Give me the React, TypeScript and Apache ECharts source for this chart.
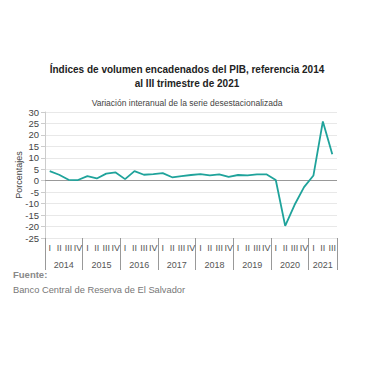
import React, { useEffect, useRef } from "react";
import * as echarts from "echarts";

const years = ["2014", "2015", "2016", "2017", "2018", "2019", "2020", "2021"];
const quartersPerYear = [4, 4, 4, 4, 4, 4, 4, 3];
const quarterNames = ["I", "II", "III", "IV"];
const values = [
  4.2, 2.6, 0.4, 0.3,
  2.0, 1.0, 3.1, 3.6,
  0.7, 4.2, 2.6, 2.9,
  3.3, 1.5, 2.0, 2.5,
  2.9, 2.3, 2.8, 1.7,
  2.5, 2.3, 2.8, 2.8,
  0.3, -19.7, -10.5, -2.8,
  2.3, 25.9, 11.6,
];

const FONT = "'Liberation Sans', Arial, sans-serif";

export default function App() {
  const ref = useRef<HTMLDivElement>(null);
  useEffect(() => {
    document.body.style.margin = "0";
    if (!ref.current) return;
    const chart = echarts.init(ref.current, undefined, { renderer: "svg" });

    const quarterCats: string[] = [];
    quartersPerYear.forEach((n) => {
      for (let i = 0; i < n; i++) quarterCats.push(quarterNames[i]);
    });
    const total = quarterCats.length;
    const halfCats: string[] = [];
    for (let i = 0; i <= total * 2; i++) halfCats.push(String(i));
    const boundaries = new Set<number>();
    const centers = new Map<number, string>();
    let acc = 0;
    boundaries.add(0);
    quartersPerYear.forEach((n, k) => {
      centers.set(acc * 2 + n, years[k]);
      acc += n;
      boundaries.add(acc * 2);
    });

    chart.setOption({
      animation: false,
      textStyle: { fontFamily: FONT },
      title: [
        {
          text: "Índices de volumen encadenados del PIB, referencia 2014\nal III trimestre de 2021",
          left: 182,
          top: 57,
          textAlign: "center",
          textStyle: { fontSize: 10, fontWeight: "bold", color: "#222", lineHeight: 14, fontFamily: FONT },
        },
        {
          text: "Variación interanual de la serie desestacionalizada",
          left: 182,
          top: 93,
          textAlign: "center",
          textStyle: { fontSize: 8.5, fontWeight: "normal", color: "#444", fontFamily: FONT },
        },
        {
          text: "Fuente:",
          left: 8,
          top: 264,
          textStyle: { fontSize: 9.5, fontWeight: "bold", color: "#888", fontFamily: FONT },
        },
        {
          text: "Banco Central de Reserva de El Salvador",
          left: 8,
          top: 280,
          textStyle: { fontSize: 9.3, fontWeight: "normal", color: "#777", fontFamily: FONT },
        },
      ],
      grid: { left: 45, right: 43, top: 112, bottom: 142, containLabel: false },
      xAxis: [
        {
          type: "category",
          data: quarterCats,
          boundaryGap: true,
          position: "bottom",
          axisLine: { show: false, onZero: false },
          axisTick: { show: false },
          axisLabel: { interval: 0, fontSize: 9, color: "#555", margin: 5, fontFamily: FONT },
          splitLine: { show: false },
        },
        {
          type: "category",
          data: halfCats,
          boundaryGap: false,
          position: "bottom",
          axisLine: { show: false, onZero: false },
          axisTick: {
            show: true,
            length: 32,
            interval: (i: number) => boundaries.has(i),
            lineStyle: { color: "#999", width: 1 },
          },
          axisLabel: {
            interval: (i: number) => centers.has(i),
            formatter: (v: string) => centers.get(Number(v)) || "",
            fontSize: 9,
            color: "#555",
            margin: 22,
            fontFamily: FONT,
          },
          splitLine: { show: false },
        },
      ],
      yAxis: {
        type: "value",
        min: -25,
        max: 30,
        interval: 5,
        name: "Porcentajes",
        nameLocation: "middle",
        nameGap: 22,
        nameRotate: 90,
        nameMoveOverlap: false,
        nameTextStyle: { fontSize: 9, color: "#444", fontFamily: FONT },
        axisLine: { show: true, lineStyle: { color: "#ccc" } },
        axisTick: { show: true, length: 4, lineStyle: { color: "#ccc" } },
        axisLabel: { fontSize: 9.5, color: "#444", margin: 6, fontFamily: FONT },
        splitLine: { show: true, lineStyle: { color: "#e8e8e8", width: 1 } },
      },
      series: [
        {
          type: "line",
          xAxisIndex: 0,
          data: values,
          symbol: "none",
          lineStyle: { color: "#1fa39b", width: 1.8 },
          z: 3,
          markLine: {
            silent: true,
            symbol: "none",
            label: { show: false },
            lineStyle: { color: "#999", width: 1, type: "solid" },
            data: [{ yAxis: 0 }],
            z: 2,
          },
        },
      ],
    });
    return () => chart.dispose();
  }, []);
  return <div ref={ref} style={{ width: 380, height: 380 }} />;
}
